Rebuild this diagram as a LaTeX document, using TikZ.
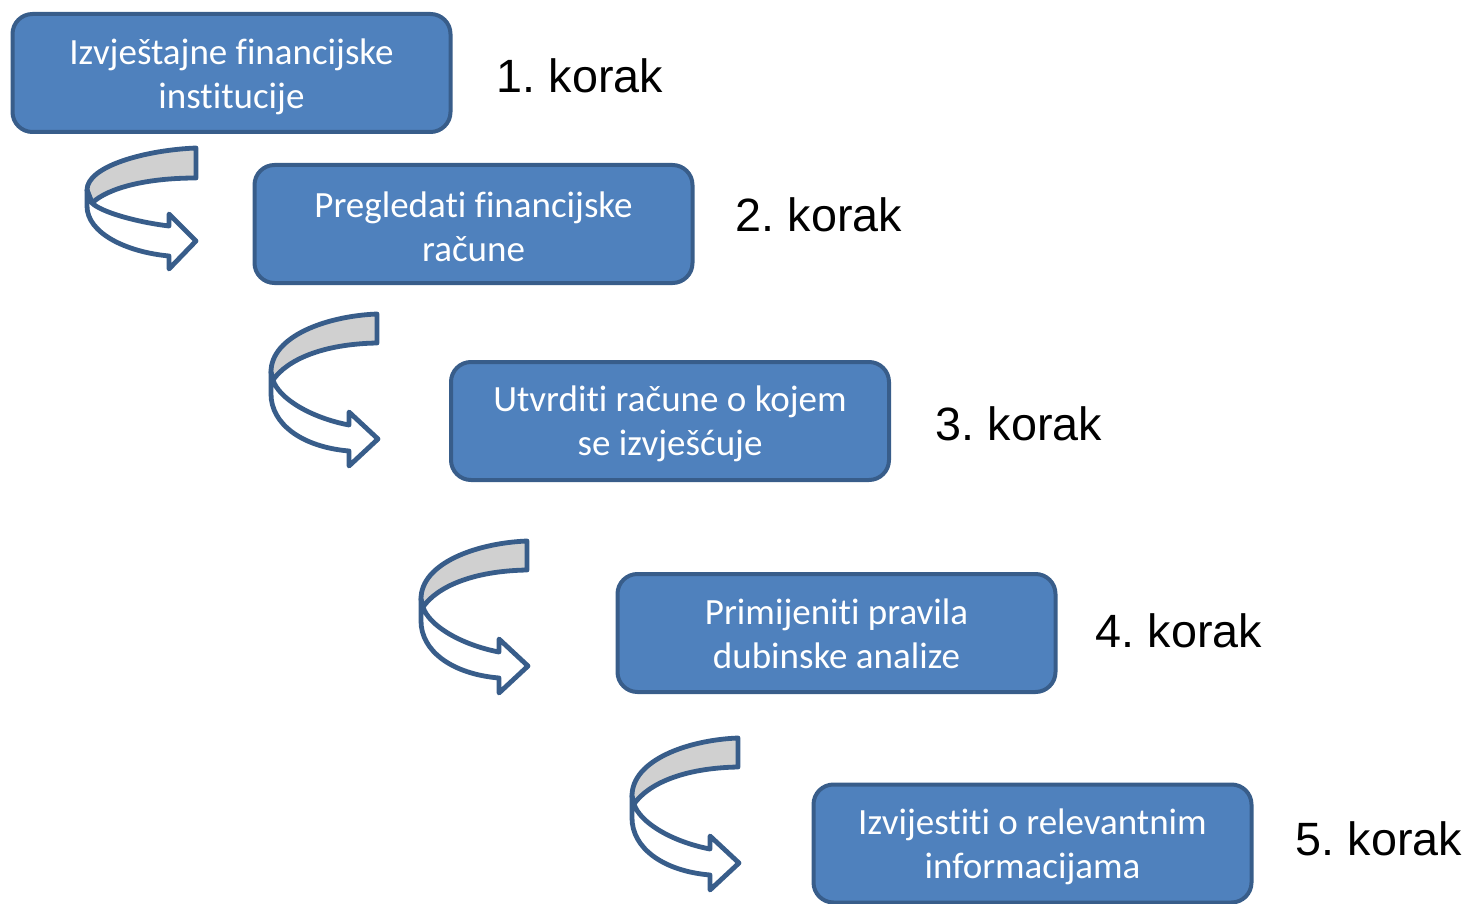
\documentclass[tikz,border=0pt]{standalone}
\usepackage{fontspec}
\setmainfont{Carlito}[RawFeature={-liga;-clig;-calt;-dlig}]
\newfontfamily\arialf{Liberation Sans}
\frenchspacing
\definecolor{boxfill}{HTML}{4F81BD}
\definecolor{boxline}{HTML}{385D8A}
\definecolor{bandgray}{HTML}{D0D0D0}
\tikzset{
  stepbox/.style={draw=boxline, line width=4pt, fill=boxfill, rounded corners=20pt,
    minimum width=438pt, minimum height=118pt, inner sep=0pt},
  boxtext/.style={text=white, align=center, inner sep=0pt,
    font=\fontsize{37}{44}\selectfont},
  steplabel/.style={anchor=base, inner sep=0pt, font=\arialf\fontsize{46.7}{50}\selectfont},
  arrline/.style={draw=boxline, line width=4.8pt, line join=round},
  bigarrow/.pic={
    \path[arrline, fill=bandgray] (0,0) .. controls (-50,2) and (-106,22) .. (-106,58)
      -- (-104,66) .. controls (-90,46) and (-55,30) .. (0,29) -- cycle;
    \path[arrline, fill=white] (-106,58) -- (-106,80) .. controls (-106,110) and (-75,133) .. (-28,137)
      -- (-28,152) -- (1,125) -- (-28,98) -- (-28,111)
      .. controls (-65,104) and (-98,85) .. (-104,66) -- cycle;
  },
  smallarrow/.pic={
    \path[arrline, fill=bandgray] (0,0) .. controls (-50,2) and (-109,18) .. (-109,42)
      -- (-104,55) .. controls (-88,40) and (-50,30) .. (0,30) -- cycle;
    \path[arrline, fill=white] (-109,42) -- (-109,58) .. controls (-109,85) and (-70,104) .. (-27,108)
      -- (-27,121) -- (0,93) -- (-27,66) -- (-27,78)
      .. controls (-60,74) and (-95,64) .. (-104,55) -- cycle;
  }
}
\begin{document}
\begin{tikzpicture}[x=1pt, y=-1pt]
\useasboundingbox (0,0) rectangle (1470,904);
% boxes
\node[stepbox] (b1) at (231.5,73) {};
\node[stepbox] (b2) at (473.5,224) {};
\node[stepbox] (b3) at (670,421) {};
\node[stepbox] (b4) at (836.5,633) {};
\node[stepbox] (b5) at (1032.5,843.5) {};
\node[boxtext] (t1) at ([yshift=-4pt]b1.center) {Izvještajne financijske\\institucije};
\node[boxtext] (t2) at ([yshift=-3pt]b2.center) {Pregledati financijske\\račune};
\node[boxtext] (t3) at ([yshift=-3pt]b3.center) {Utvrditi račune o kojem\\se izvješćuje};
\node[boxtext] (t4) at ([yshift=-1pt]b4.center) {Primijeniti pravila\\dubinske analize};
\node[boxtext] (t5) at ([yshift=-3pt]b5.center) {Izvijestiti o relevantnim\\informacijama};
% labels
\node[steplabel] (k1) at (580,93) {1. korak};
\node[steplabel] (k2) at (819,232) {2. korak};
\node[steplabel] (k3) at (1019,440) {3. korak};
\node[steplabel] (k4) at (1179,647) {4. korak};
\node[steplabel] (k5) at (1379,855) {5. korak};
% curved arrows
\pic at (196,148) {smallarrow};
\pic at (377,314) {bigarrow};
\pic at (527,541) {bigarrow};
\pic at (738,738) {bigarrow};
\end{tikzpicture}
\end{document}
